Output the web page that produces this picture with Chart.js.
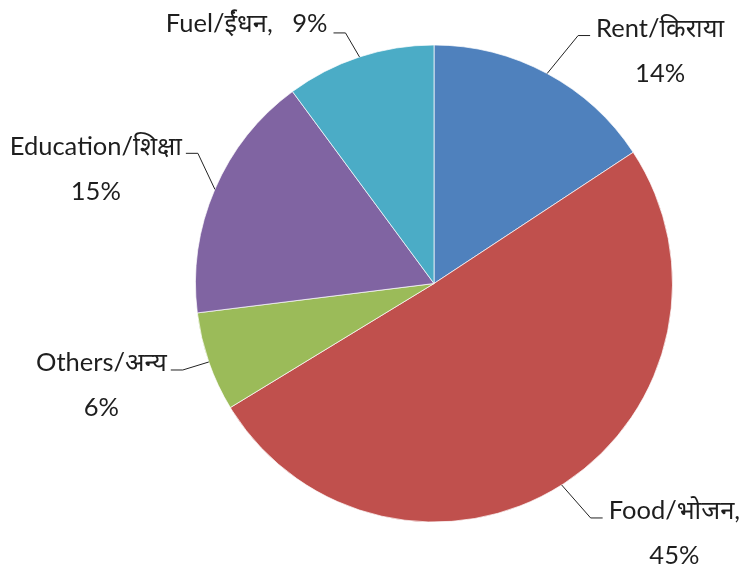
<!DOCTYPE html>
<html>
<head>
<meta charset="utf-8">
<script src="https://cdn.jsdelivr.net/npm/chart.js@4.4.0/dist/chart.umd.min.js"></script>
<style>
  html, body { margin: 0; padding: 0; background: #fff; }
  #wrap { width: 743px; height: 568px; }
</style>
</head>
<body>
<div id="wrap"><canvas id="myChart" width="743" height="568"></canvas></div>
<script>
// data
var categories = ['Rent/किराया', 'Food/भोजन', 'Others/अन्य', 'Education/शिक्षा', 'Fuel/ईंधन'];
var shares = [14, 45, 6, 15, 9];
var colors = ['#4F81BD', '#C0504D', '#9BBB59', '#8064A2', '#4BACC6'];

// where each label sits: elbow offset from the slice edge, side, one line or two
var labelLayout = [
    { dx: 31, dy: -38, side: 1, oneLine: false, sep: '' },
    { dx: 29, dy: 33, side: 1, oneLine: false, sep: ',' },
    { dx: -26, dy: 8, side: -1, oneLine: false, sep: '' },
    { dx: -17, dy: -36, side: -1, oneLine: false, sep: '' },
    { dx: -14, dy: -24, side: -1, oneLine: true, sep: ',   ' }
];

var FONT = '25.5px Lato, "Noto Sans", sans-serif';

var leaderLabels = {
    id: 'leaderLabels',
    afterDatasetsDraw: function (chart) {
        var ctx = chart.ctx;
        var meta = chart.getDatasetMeta(0);
        ctx.save();
        ctx.font = FONT;
        ctx.fillStyle = '#1e1e1e';
        ctx.strokeStyle = '#222';
        ctx.lineWidth = 1;
        meta.data.forEach(function (arc, i) {
            var p = arc.getProps(['x', 'y', 'startAngle', 'endAngle', 'outerRadius'], true);
            var mid = (p.startAngle + p.endAngle) / 2;
            var ex = p.x + Math.cos(mid) * p.outerRadius;
            var ey = p.y + Math.sin(mid) * p.outerRadius;
            var L = labelLayout[i];
            var bx = ex + L.dx, by = ey + L.dy;
            var hx = bx + L.side * 12;
            ctx.beginPath();
            ctx.moveTo(ex, ey);
            ctx.lineTo(bx, by);
            ctx.lineTo(hx, by);
            ctx.stroke();

            var name = categories[i] + L.sep;
            var pct = shares[i] + '%';
            ctx.textBaseline = 'middle';
            var ty = by - 7;
            if (L.oneLine) {
                var t = name + pct;
                ctx.textAlign = L.side > 0 ? 'left' : 'right';
                ctx.fillText(t, hx + L.side * 6, ty - 2);
            } else {
                var w = ctx.measureText(name).width;
                var left = L.side > 0 ? hx + 6 : hx - 4 - w;
                ctx.textAlign = 'left';
                ctx.fillText(name, left, ty);
                ctx.textAlign = 'center';
                ctx.fillText(pct, left + w / 2, ty + 45);
            }
        });
        ctx.restore();
    }
};

function init() {
    var ctx = document.getElementById('myChart').getContext('2d');
    var chart = new Chart(ctx, {
        type: 'pie',
        data: {
            labels: categories,
            datasets: [{
                data: shares,
                backgroundColor: colors,
                borderColor: 'rgba(255,255,255,0.7)',
                borderWidth: 1
            }]
        },
        options: {
            responsive: false,
            animation: false,
            layout: { padding: { left: 195, right: 70, top: 44, bottom: 45 } },
            plugins: {
                legend: { display: false },
                tooltip: { enabled: false }
            }
        },
        plugins: [leaderLabels]
    });
}
init();
</script>
</body>
</html>
